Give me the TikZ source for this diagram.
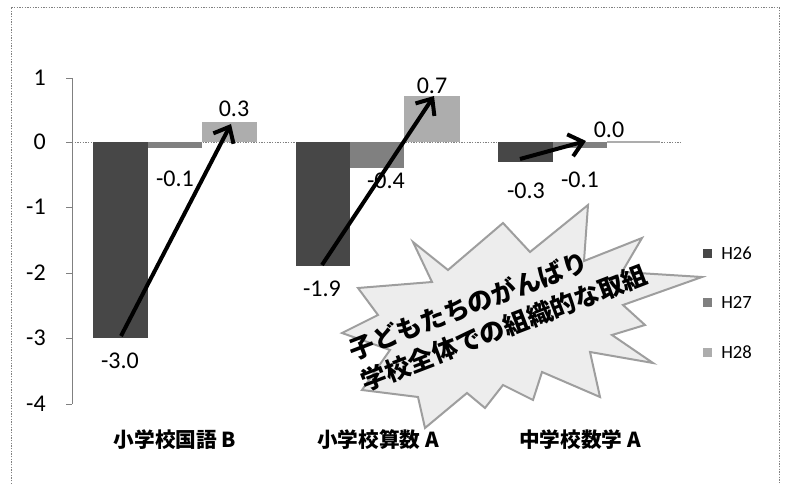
\documentclass[tikz,border=0pt]{standalone}
\usepackage{fontspec}
\setmainfont{Carlito}
\newfontfamily\cjk{Noto Sans CJK JP}
\usetikzlibrary{arrows.meta}

\definecolor{barA}{gray}{0.28}
\definecolor{barB}{gray}{0.50}
\definecolor{barC}{gray}{0.68}
\definecolor{burstfill}{gray}{0.93}
\definecolor{burstline}{gray}{0.62}

\tikzset{
  numlabel/.style={font=\fontsize{18}{21}\selectfont, inner sep=0.75pt},
  catlabel/.style={font=\cjk\bfseries\fontsize{15.5}{18}\selectfont, inner sep=0.75pt},
  legtext/.style={font=\fontsize{14}{16}\selectfont, inner sep=0.75pt, anchor=west},
  trendarrow/.style={line width=3pt, -{Straight Barb[length=10pt,width=17pt]}},
}

\begin{document}
\begin{tikzpicture}[x=0.75pt,y=0.75pt,yscale=-1,xscale=1]
\useasboundingbox (0,0) rectangle (786,484);

%Frame (open at the bottom)
\draw [gray, dash pattern={on 1pt off 1pt}]  (11,484) -- (11,7) -- (779,7) -- (779,484) ;

%Straight Lines: zero line
\draw [gray, dash pattern={on 1pt off 1pt}]  (72,142) -- (682,142) ;
%Straight Lines: value axis
\draw [gray]  (72,78) -- (72,404) ;
\draw [gray]  (66,78) -- (72,78) ;
\draw [gray]  (66,142) -- (72,142) ;
\draw [gray]  (66,207) -- (72,207) ;
\draw [gray]  (66,273) -- (72,273) ;
\draw [gray]  (66,338) -- (72,338) ;
\draw [gray]  (66,404) -- (72,404) ;

% Text Node: axis values
\node [numlabel, anchor=east] (tick1) at (47,78) {1};
\node [numlabel, anchor=east] (tick0) at (47,142) {0};
\node [numlabel, anchor=east] (tickm1) at (47,207) {-1};
\node [numlabel, anchor=east] (tickm2) at (47,273) {-2};
\node [numlabel, anchor=east] (tickm3) at (47,338) {-3};
\node [numlabel, anchor=east] (tickm4) at (47,404) {-4};

%Shape: Rectangle, first group
\fill [barA]  (93,142) rectangle (148,338) ;
\fill [barB]  (148,142) rectangle (202,148.5) ;
\fill [barC]  (202,142) rectangle (257,122.4) ;
%Shape: Rectangle, second group
\fill [barA]  (296,142) rectangle (350,266) ;
\fill [barB]  (350,142) rectangle (404,168) ;
\fill [barC]  (404,142) rectangle (460,96.3) ;
%Shape: Rectangle, third group
\fill [barA]  (498,142) rectangle (553,161.6) ;
\fill [barB]  (553,142) rectangle (607,148.5) ;
\draw [barC, line width=1pt]  (607,142) -- (660,142) ;

% Text Node: bar values
\node [numlabel] (vA1) at (120,361) {-3.0};
\node [numlabel] (vB1) at (175,179) {-0.1};
\node [numlabel] (vC1) at (234,109) {0.3};
\node [numlabel] (vA2) at (322,289) {-1.9};
\node [numlabel] (vB2) at (386,181) {-0.4};
\node [numlabel] (vC2) at (432,86) {0.7};
\node [numlabel] (vA3) at (526,191) {-0.3};
\node [numlabel] (vB3) at (580,180) {-0.1};
\node [numlabel] (vC3) at (609,130) {0.0};

%Arrow ends
\coordinate (startA) at (121,336);
\coordinate (endA) at (231,124);
\coordinate (startB) at (322,265);
\coordinate (endB) at (434,96);
\coordinate (startC) at (520,159);
\coordinate (endC) at (586,141);

%Straight Lines: trend arrows
\draw [trendarrow]  (startA) -- (endA) ;
\draw [trendarrow]  (startB) -- (endB) ;
\draw [trendarrow]  (startC) -- (endC) ;

%Shape: Explosion
\draw [burstline, fill=burstfill, line width=1.5pt, line join=miter]  (413,242) -- (448,270) -- (503,223) -- (530,252) -- (588,205) -- (584,261) -- (642,238) -- (622,272) -- (702,277) -- (623,305) -- (645,325) -- (612,335) -- (653,363) -- (590,352) -- (600,397) -- (542,372) -- (533,400) -- (503,385) -- (485,408) -- (467,393) -- (425,428) -- (418,397) -- (362,390) -- (390,350) -- (342,333) -- (378,315) -- (358,288) -- (432,282) -- cycle ;

% Text Node: slogan
\node [font=\cjk\bfseries\fontsize{19}{25}\selectfont, align=left, rotate=21, inner sep=0.75pt] (slogan) at (498,312) {子どもたちのがんばり\\学校全体での組織的な取組};

% Text Node: categories
\node [catlabel] (catA) at (175,440) {小学校国語 B};
\node [catlabel] (catB) at (378,440) {小学校算数 A};
\node [catlabel] (catC) at (580,440) {中学校数学 A};

%Legend
\fill [barA]  (703,249) rectangle (712,258) ;
\node [legtext] (legA) at (720,253) {H26};
\fill [barB]  (703,298) rectangle (712,307) ;
\node [legtext] (legB) at (720,302) {H27};
\fill [barC]  (703,348) rectangle (712,357) ;
\node [legtext] (legC) at (720,352) {H28};

\end{tikzpicture}
\end{document}
